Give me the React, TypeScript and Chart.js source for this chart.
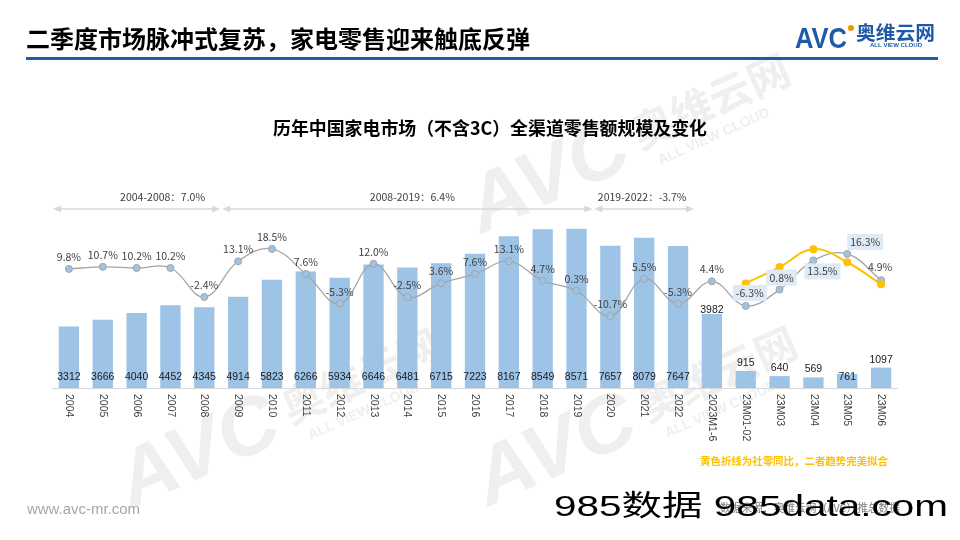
import React, { useEffect, useRef } from "react";
import { Chart, registerables } from "chart.js";

Chart.register(...registerables);

// ---------------- data ----------------
const categories = [
  "2004", "2005", "2006", "2007", "2008", "2009", "2010", "2011", "2012", "2013",
  "2014", "2015", "2016", "2017", "2018", "2019", "2020", "2021", "2022",
  "2023M1-6", "23M01-02", "23M03", "23M04", "23M05", "23M06",
];
const retailSales = [
  3312, 3666, 4040, 4452, 4345, 4914, 5823, 6266, 5934, 6646,
  6481, 6715, 7223, 8167, 8549, 8571, 7657, 8079, 7647,
  3982, 915, 640, 569, 761, 1097,
];
const growthRates = [
  9.8, 10.7, 10.2, 10.2, -2.4, 13.1, 18.5, 7.6, -5.3, 12.0,
  -2.5, 3.6, 7.6, 13.1, 4.7, 0.3, -10.7, 5.5, -5.3,
  4.4, -6.3, 0.8, 13.5, 16.3, 4.9,
];
const socialRetailGrowth: (number | null)[] = [
  null, null, null, null, null, null, null, null, null, null,
  null, null, null, null, null, null, null, null, null,
  null, 3.5, 10.6, 18.4, 12.7, 3.1,
];
const periodLabels = ["2004-2008：7.0%", "2008-2019：6.4%", "2019-2022：-3.7%"];
const periodStart = [0, 5, 16];
const periodEnd = [4, 15, 18];

const titleText = "二季度市场脉冲式复苏，家电零售迎来触底反弹";
const chartTitle = "历年中国家电市场（不含3C）全渠道零售额规模及变化";
const noteText = "黄色折线为社零同比，二者趋势完美拟合";
const sourceText = "数据来源：奥维云网（AVC）推总数据";

// ---------------- styles ----------------
const BAR_COLOR = "#9DC3E6";
const LINE_GREY = "#A5A5A5";
const YELLOW = "#FFC000";
const TEXT = "#404040";
const SANS = '"Liberation Sans", "Noto Sans CJK SC", sans-serif';
const CJK = '"Noto Sans CJK SC", sans-serif';

const growthLabelOffset: Record<number, [number, number]> = {
  20: [4, -13],
  21: [2, -12],
  22: [9, 11],
  23: [18, -12],
  24: [-1, -13],
};
const boxedLabels = new Set([20, 21, 22, 23]);
const periodTextShift = [26, 5, -2];
const watermarkAnchors: [number, number][] = [
  [131, 509],
  [488, 507],
  [481, 234],
];

function barLabelMode(i: number): string {
  if (i <= 18 || i === 23) return "base";
  if (i === 19) return "top";
  return "above";
}

function fitText(ctx: CanvasRenderingContext2D, text: string, x: number, y: number, width: number) {
  const w = ctx.measureText(text).width;
  ctx.save();
  ctx.textAlign = "left";
  ctx.translate(x, y);
  ctx.scale(width / w, 1);
  ctx.fillText(text, 0, 0);
  ctx.restore();
}

function arrowHead(ctx: CanvasRenderingContext2D, x: number, y: number, dir: number) {
  ctx.beginPath();
  ctx.moveTo(x, y);
  ctx.lineTo(x - dir * 8, y - 3.5);
  ctx.lineTo(x - dir * 8, y + 3.5);
  ctx.closePath();
  ctx.fill();
}

function drawWatermark(ctx: CanvasRenderingContext2D, x: number, y: number) {
  ctx.save();
  ctx.translate(x, y);
  ctx.rotate(-0.42);
  ctx.fillStyle = "#EFEFEF";
  ctx.textAlign = "left";
  ctx.textBaseline = "alphabetic";
  ctx.font = `bold italic 80px ${SANS}`;
  fitText(ctx, "AVC", 0, 0, 169);
  ctx.font = `bold 42px ${CJK}`;
  ctx.fillText("奥维云网", 180, -12);
  ctx.font = `bold 14px ${SANS}`;
  ctx.fillText("ALL VIEW CLOUD", 192, 10);
  ctx.restore();
}

const decorPlugin = {
  id: "decor",
  beforeDraw(chart: any) {
    const ctx: CanvasRenderingContext2D = chart.ctx;
    ctx.save();
    ctx.fillStyle = "#ffffff";
    ctx.fillRect(0, 0, chart.width, chart.height);

    watermarkAnchors.forEach(([x, y]) => drawWatermark(ctx, x, y));

    // page title
    ctx.fillStyle = "#000000";
    ctx.font = `bold 24px ${CJK}`;
    ctx.textAlign = "left";
    ctx.textBaseline = "middle";
    ctx.fillText(titleText, 26, 39);

    // blue rule
    ctx.fillStyle = "#1F5AA6";
    ctx.fillRect(26, 57, 912, 3);

    // logo
    ctx.fillStyle = "#1F5AA6";
    ctx.font = `bold 30px ${SANS}`;
    ctx.textBaseline = "alphabetic";
    fitText(ctx, "AVC", 795, 48, 52);
    ctx.fillStyle = "#F39800";
    ctx.beginPath();
    ctx.arc(851, 28, 3, 0, Math.PI * 2);
    ctx.fill();
    ctx.fillStyle = "#1F5AA6";
    ctx.font = `bold 19px ${CJK}`;
    ctx.textBaseline = "middle";
    fitText(ctx, "奥维云网", 856, 33, 79);
    ctx.font = `bold 6px ${SANS}`;
    fitText(ctx, "ALL VIEW CLOUD", 870, 45, 52);

    // chart title
    ctx.fillStyle = "#000000";
    ctx.font = `bold 18px ${CJK}`;
    ctx.textBaseline = "middle";
    fitText(ctx, chartTitle, 273, 128, 434);
    ctx.restore();
  },
  beforeDatasetsDraw(chart: any) {
    const ctx: CanvasRenderingContext2D = chart.ctx;
    const area = chart.chartArea;
    const xs = chart.scales.x;
    const slot = (area.right - area.left) / categories.length;
    ctx.save();

    // axis line
    ctx.strokeStyle = "#D9D9D9";
    ctx.lineWidth = 1;
    ctx.beginPath();
    ctx.moveTo(area.left, area.bottom + 0.5);
    ctx.lineTo(area.right, area.bottom + 0.5);
    ctx.stroke();

    // x labels rotated
    ctx.fillStyle = TEXT;
    ctx.font = `10.5px ${SANS}`;
    ctx.textAlign = "left";
    ctx.textBaseline = "middle";
    categories.forEach((c, i) => {
      const x = xs.getPixelForValue(i);
      ctx.save();
      ctx.translate(x, area.bottom + 6);
      ctx.rotate(Math.PI / 2);
      ctx.fillText(c, 0, 0);
      ctx.restore();
    });

    // period annotations
    ctx.fillStyle = "#D9D9D9";
    ctx.strokeStyle = "#D9D9D9";
    ctx.lineWidth = 1.5;
    periodLabels.forEach((lab, k) => {
      const left = xs.getPixelForValue(periodStart[k]) - slot / 2 + 1;
      const right = xs.getPixelForValue(periodEnd[k]) + slot / 2 - 1;
      const y = 209;
      ctx.beginPath();
      ctx.moveTo(left + 4, y);
      ctx.lineTo(right - 4, y);
      ctx.stroke();
      arrowHead(ctx, left, y, -1);
      arrowHead(ctx, right, y, 1);
      ctx.save();
      ctx.fillStyle = TEXT;
      ctx.font = `10.5px ${CJK}`;
      ctx.textAlign = "center";
      ctx.textBaseline = "middle";
      ctx.fillText(lab, (left + right) / 2 + periodTextShift[k], 197);
      ctx.restore();
    });
    ctx.restore();
  },
  afterDatasetsDraw(chart: any) {
    const ctx: CanvasRenderingContext2D = chart.ctx;
    ctx.save();
    // bar labels
    const barMeta = chart.getDatasetMeta(2);
    ctx.fillStyle = "#1a1a1a";
    ctx.font = `10.5px ${SANS}`;
    ctx.textAlign = "center";
    ctx.textBaseline = "middle";
    barMeta.data.forEach((el: any, i: number) => {
      const mode = barLabelMode(i);
      let y = el.y - 8;
      if (mode === "base") y = el.base - 11;
      if (mode === "top") y = el.y - 4;
      ctx.fillText(String(retailSales[i]), el.x, y);
    });

    // growth labels
    const lineMeta = chart.getDatasetMeta(1);
    ctx.font = `10.5px ${CJK}`;
    lineMeta.data.forEach((el: any, i: number) => {
      const off = growthLabelOffset[i] || [0, -12];
      const cx = el.x + off[0];
      const cy = el.y + off[1];
      const txt = growthRates[i].toFixed(1) + "%";
      if (boxedLabels.has(i)) {
        const w = ctx.measureText(txt).width;
        ctx.fillStyle = "#DEEBF7";
        ctx.fillRect(cx - w / 2 - 3, cy - 8, w + 6, 16);
      }
      ctx.fillStyle = TEXT;
      ctx.fillText(txt, cx, cy);
    });
    ctx.restore();
  },
  afterDraw(chart: any) {
    const ctx: CanvasRenderingContext2D = chart.ctx;
    ctx.save();
    ctx.textAlign = "left";
    ctx.textBaseline = "middle";
    // note
    ctx.fillStyle = YELLOW;
    ctx.font = `bold 10.5px ${CJK}`;
    fitText(ctx, noteText, 700, 461, 188);
    // website
    ctx.fillStyle = "#A6A6A6";
    ctx.font = `14px ${SANS}`;
    fitText(ctx, "www.avc-mr.com", 27, 510, 113);
    // source
    ctx.fillStyle = "#7F7F7F";
    ctx.font = `11px ${CJK}`;
    fitText(ctx, sourceText, 720, 508, 180);
    // overlay watermark
    ctx.fillStyle = "#000000";
    ctx.font = `29px ${SANS}`;
    ctx.textBaseline = "alphabetic";
    fitText(ctx, "985数据 985data.com", 554, 516, 394);
    ctx.restore();
  },
};

export default function App() {
  const ref = useRef<HTMLCanvasElement | null>(null);
  useEffect(() => {
    if (!ref.current) return;
    const chart = new Chart(ref.current, {
      type: "bar",
      data: {
        labels: categories,
        datasets: [
          {
            type: "line",
            label: "社零同比",
            data: socialRetailGrowth,
            yAxisID: "y2",
            borderColor: YELLOW,
            backgroundColor: YELLOW,
            borderWidth: 2,
            pointRadius: 3,
            pointBackgroundColor: YELLOW,
            pointBorderColor: YELLOW,
            tension: 0.4,
            order: 1,
          } as any,
          {
            type: "line",
            label: "同比",
            data: growthRates,
            yAxisID: "y2",
            borderColor: LINE_GREY,
            borderWidth: 1.3,
            pointRadius: 3.5,
            pointBackgroundColor: BAR_COLOR,
            pointBorderColor: LINE_GREY,
            pointBorderWidth: 1,
            tension: 0.4,
            order: 2,
          } as any,
          {
            type: "bar",
            label: "零售额",
            data: retailSales,
            yAxisID: "y",
            backgroundColor: BAR_COLOR,
            barPercentage: 0.6,
            categoryPercentage: 1,
            order: 3,
          } as any,
        ],
      },
      options: {
        responsive: false,
        animation: false,
        layout: { padding: { left: 52, right: 62, top: 165, bottom: 152 } },
        plugins: { legend: { display: false }, tooltip: { enabled: false } },
        scales: {
          x: { display: false, offset: true },
          y: { display: false, min: 0, max: 12000 },
          y2: { display: false, min: -42, max: 55, position: "right" },
        },
      } as any,
      plugins: [decorPlugin],
    });
    return () => chart.destroy();
  }, []);
  return (
    <div style={{ position: "fixed", left: 0, top: 0, width: 960, height: 540, background: "#fff" }}>
      <canvas ref={ref} width={960} height={540} style={{ display: "block", width: 960, height: 540 }} />
    </div>
  );
}
